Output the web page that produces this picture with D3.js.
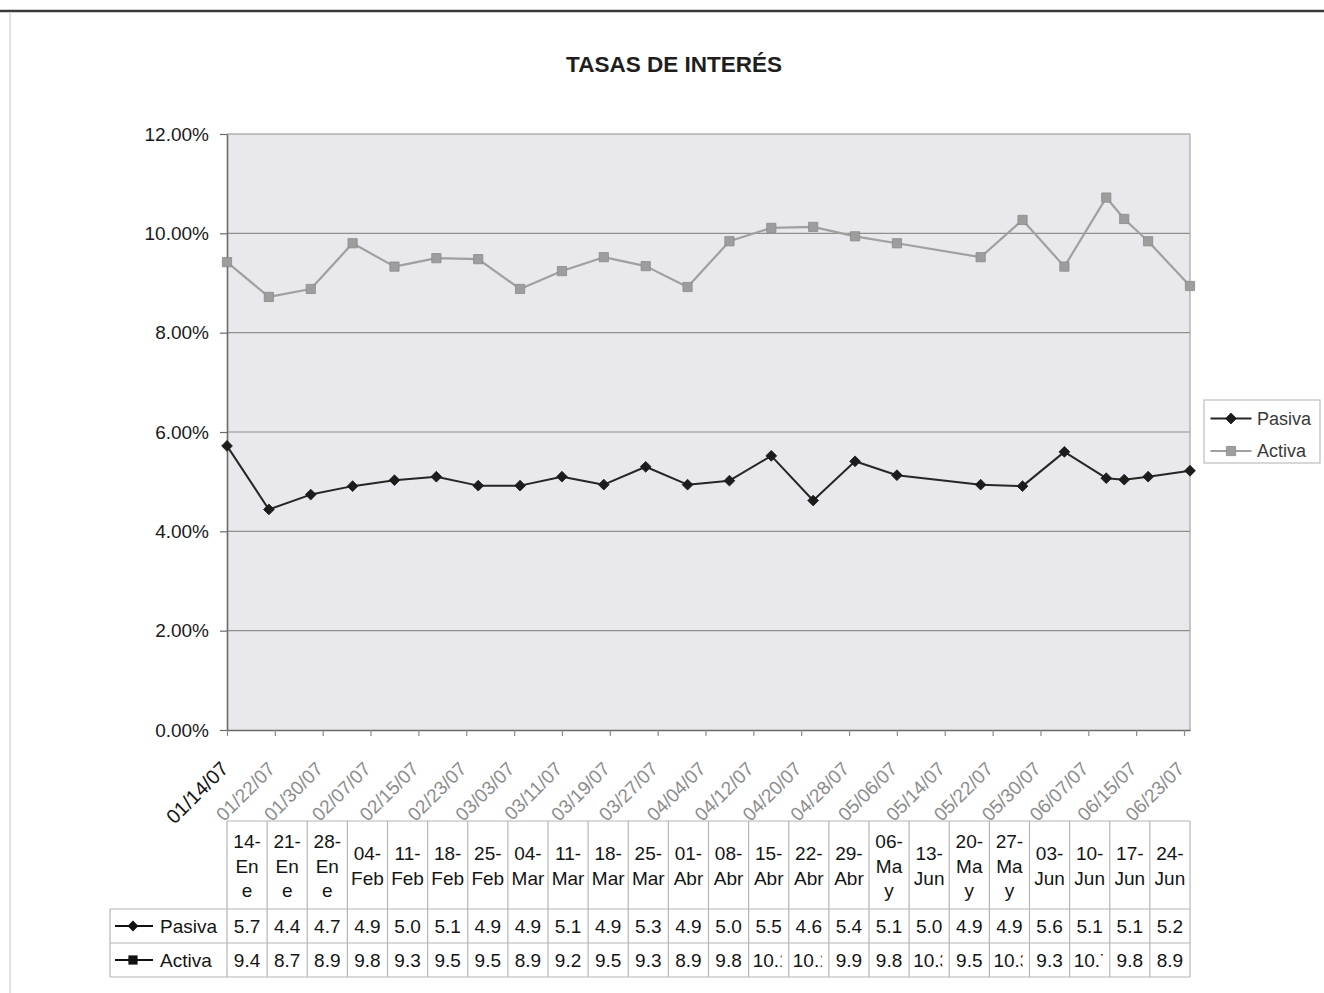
<!DOCTYPE html>
<html>
<head>
<meta charset="utf-8">
<title>Tasas de interés</title>
<script src="https://cdn.jsdelivr.net/npm/d3@7"></script>
<style>
  body { margin: 0; background: #ffffff; }
  svg { display: block; font-family: "Liberation Sans", Arial, Helvetica, sans-serif; }
</style>
</head>
<body>
<svg id="chart" width="1324" height="993"></svg>
<script>
// ---- Datos ----
const titulo = "TASAS DE INTERÉS";

// Etiquetas de la tabla de datos, en el orden de la hoja
const categorias = ["14-Ene","21-Ene","28-Ene","04-Feb","11-Feb","18-Feb","25-Feb","04-Mar","11-Mar","18-Mar","25-Mar",
  "01-Abr","08-Abr","15-Abr","22-Abr","29-Abr","06-May","13-Jun","20-May","27-May","03-Jun","10-Jun","17-Jun","24-Jun"];

// Fecha real de cada columna (eje de fechas)
const fechas = ["2007-01-14","2007-01-21","2007-01-28","2007-02-04","2007-02-11","2007-02-18","2007-02-25","2007-03-04",
  "2007-03-11","2007-03-18","2007-03-25","2007-04-01","2007-04-08","2007-04-15","2007-04-22","2007-04-29","2007-05-06",
  "2007-06-13","2007-05-20","2007-05-27","2007-06-03","2007-06-10","2007-06-17","2007-06-24"];

// Tasas en %
const pasiva = [5.72, 4.44, 4.74, 4.91, 5.03, 5.10, 4.92, 4.92, 5.10, 4.94, 5.30, 4.94,
  5.02, 5.52, 4.62, 5.41, 5.13, 5.04, 4.94, 4.91, 5.60, 5.07, 5.10, 5.22];
const activa = [9.42, 8.72, 8.88, 9.80, 9.33, 9.50, 9.48, 8.88, 9.24, 9.52, 9.34, 8.92,
  9.84, 10.11, 10.13, 9.94, 9.80, 10.29, 9.52, 10.27, 9.33, 10.72, 9.84, 8.94];

const rangoFechas = ["2007-01-14", "2007-06-24"];
const rangoTasas = [0, 12];
const pasoEtiquetasDias = 8;

// ---- Dibujo ----
const parse = d3.utcParse("%Y-%m-%d");
const svg = d3.select("#chart");

const plot = { left: 227, right: 1190, top: 134, bottom: 730 };
const tabla = { left: 110, top: 821, header: 909, row1: 943, bottom: 977 };

const x = d3.scaleUtc().domain(rangoFechas.map(parse)).range([plot.left, plot.right]);
const y = d3.scaleLinear().domain(rangoTasas).range([plot.bottom, plot.top]);

const series = [
  { nombre: "Pasiva", valores: pasiva, linea: "#262626", ancho: 2, simbolo: d3.symbolSquare, tam: 58, giro: 45,
    relleno: "#1c1c1c", borde: "#1c1c1c", rellenoTabla: "#111" },
  { nombre: "Activa", valores: activa, linea: "#a0a0a0", ancho: 2.2, simbolo: d3.symbolSquare, tam: 85, giro: 0,
    relleno: "#9d9d9d", borde: "#8a8a8a", rellenoTabla: "#111" }
];

// marco de la página
svg.append("line").attr("x1", 0).attr("x2", 1324).attr("y1", 11).attr("y2", 11)
  .attr("stroke", "#3a3a3a").attr("stroke-width", 2.5);
svg.append("line").attr("x1", 10).attr("x2", 10).attr("y1", 12).attr("y2", 993)
  .attr("stroke", "#cfcfcf").attr("stroke-width", 1.2);

// título
svg.append("text").attr("x", 674).attr("y", 72).attr("text-anchor", "middle")
  .attr("font-size", 22.5).attr("font-weight", "bold").attr("fill", "#1e1e1e").text(titulo);

// área de trazado
svg.append("rect").attr("x", plot.left).attr("y", plot.top)
  .attr("width", plot.right - plot.left).attr("height", plot.bottom - plot.top)
  .attr("fill", "#e8e8ed");

// líneas de división
const ticksY = y.ticks(6);
svg.append("g").selectAll("line").data(ticksY.filter(d => d > 0)).join("line")
  .attr("x1", plot.left).attr("x2", plot.right)
  .attr("y1", d => y(d)).attr("y2", d => y(d))
  .attr("stroke", "#8f8f8f").attr("stroke-width", 1.2);
svg.append("line").attr("x1", plot.right).attr("x2", plot.right)
  .attr("y1", plot.top).attr("y2", plot.bottom).attr("stroke", "#a5a5a5").attr("stroke-width", 1.2);

// eje Y
const gy = svg.append("g").attr("transform", `translate(${plot.left},0)`)
  .call(d3.axisLeft(y).tickValues(ticksY).tickSize(7).tickSizeOuter(0).tickPadding(11)
    .tickFormat(d => d.toFixed(2) + "%"));
gy.select(".domain").attr("stroke", "#6a6a6a").attr("stroke-width", 1.6);
gy.selectAll(".tick line").attr("stroke", "#6a6a6a").attr("stroke-width", 1.2);
gy.selectAll(".tick text").attr("font-size", 19).attr("fill", "#1a1a1a")
  .attr("font-family", "'Liberation Sans', Arial, sans-serif");

// eje X (fechas cada 8 días)
const inicio = parse(rangoFechas[0]), fin = parse(rangoFechas[1]);
const ticksX = d3.utcDay.range(inicio, fin, pasoEtiquetasDias);
const gx = svg.append("g").attr("transform", `translate(0,${plot.bottom})`)
  .call(d3.axisBottom(x).tickValues(ticksX).tickSize(6).tickSizeOuter(0)
    .tickFormat(d3.utcFormat("%m/%d/%y")));
gx.select(".domain").attr("stroke", "#6a6a6a").attr("stroke-width", 1.6);
gx.selectAll(".tick line").attr("stroke", "#8a8a8a").attr("stroke-width", 1.2);
gx.selectAll(".tick text")
  .attr("x", 0).attr("y", 0).attr("dy", 0)
  .attr("text-anchor", "end")
  .attr("font-family", "'Liberation Sans', Arial, sans-serif")
  .attr("transform", (d, i) => i === 0 ? "translate(2,40) rotate(-45)" : "translate(1,40) rotate(-45)")
  .attr("font-size", (d, i) => i === 0 ? 20 : 19)
  .attr("fill", (d, i) => i === 0 ? "#151515" : "#8c8c8c");

// series
series.forEach(s => {
  const puntos = s.valores.map((v, i) => ({ fecha: parse(fechas[i]), v }))
    .sort((a, b) => a.fecha - b.fecha);
  svg.append("path").datum(puntos)
    .attr("fill", "none").attr("stroke", s.linea).attr("stroke-width", s.ancho)
    .attr("stroke-linejoin", "round")
    .attr("d", d3.line().x(d => x(d.fecha)).y(d => y(d.v)));
  svg.append("g").selectAll("path").data(puntos).join("path")
    .attr("d", d3.symbol(s.simbolo, s.tam))
    .attr("transform", d => `translate(${x(d.fecha)},${y(d.v)}) rotate(${s.giro})`)
    .attr("fill", s.relleno).attr("stroke", s.borde).attr("stroke-width", 0.8);
});

// leyenda
const ley = svg.append("g").attr("transform", "translate(1204,400)");
ley.append("rect").attr("width", 116).attr("height", 63)
  .attr("fill", "#fff").attr("stroke", "#bdbdbd").attr("stroke-width", 1.2);
series.forEach((s, i) => {
  const cy = 18.5 + i * 32.5;
  ley.append("line").attr("x1", 6.5).attr("x2", 47.5).attr("y1", cy).attr("y2", cy)
    .attr("stroke", s.linea).attr("stroke-width", s.ancho);
  ley.append("path").attr("d", d3.symbol(s.simbolo, s.tam))
    .attr("transform", `translate(27,${cy}) rotate(${s.giro})`)
    .attr("fill", s.relleno).attr("stroke", s.borde).attr("stroke-width", 0.8);
  ley.append("text").attr("x", 53).attr("y", cy).attr("dy", "0.35em")
    .attr("font-size", 18).attr("fill", "#3a3a3a").text(s.nombre);
});

// tabla de datos
const n = categorias.length;
const cw = (plot.right - plot.left) / n;
const tb = svg.append("g");
const colorLinea = "#b6b6b6";
const fuenteTabla = 19;
const margen = 4;

[[tabla.top, plot.left], [tabla.header, tabla.left], [tabla.row1, tabla.left], [tabla.bottom, tabla.left]]
  .forEach(([yy, x0]) => tb.append("line").attr("x1", x0).attr("x2", plot.right)
    .attr("y1", yy).attr("y2", yy).attr("stroke", colorLinea).attr("stroke-width", 1.2));
tb.append("line").attr("x1", tabla.left).attr("x2", tabla.left)
  .attr("y1", tabla.header).attr("y2", tabla.bottom).attr("stroke", colorLinea).attr("stroke-width", 1.2);
d3.range(n + 1).forEach(i => tb.append("line")
  .attr("x1", plot.left + i * cw).attr("x2", plot.left + i * cw)
  .attr("y1", tabla.top).attr("y2", tabla.bottom)
  .attr("stroke", colorLinea).attr("stroke-width", 1.2));

// medición de texto para el ajuste de líneas
const medidor = svg.append("text").attr("font-size", fuenteTabla).attr("visibility", "hidden");
const medir = t => { medidor.text(t); return medidor.node().getComputedTextLength(); };
const anchoUtil = cw - 2 * margen + 1.2;
function partir(etiqueta) {
  const lineas = []; let actual = "";
  for (const ch of etiqueta) {
    const prueba = actual + ch;
    if (actual && medir(prueba) > anchoUtil) { lineas.push(actual); actual = ch; }
    else actual = prueba;
  }
  if (actual) lineas.push(actual);
  return lineas;
}

// encabezados
const altoLinea = 24.5;
const centroEnc = 866;
categorias.forEach((c, i) => {
  const lineas = partir(c);
  const cx = plot.left + (i + 0.5) * cw;
  const t = tb.append("text").attr("text-anchor", "middle").attr("font-size", fuenteTabla).attr("fill", "#141414");
  lineas.forEach((l, k) => t.append("tspan").attr("x", cx)
    .attr("y", centroEnc + (k - (lineas.length - 1) / 2) * altoLinea).attr("dy", "0.35em").text(l));
});

// filas de valores; el texto que no cabe se recorta en el borde interior de la celda
const defs = svg.append("defs");
const fmt = d3.format(".1f");
series.forEach((s, r) => {
  const y0 = r === 0 ? tabla.header : tabla.row1;
  const y1 = r === 0 ? tabla.row1 : tabla.bottom;
  const cy = (y0 + y1) / 2;
  // clave de la serie
  tb.append("line").attr("x1", 115).attr("x2", 153).attr("y1", cy).attr("y2", cy)
    .attr("stroke", "#111").attr("stroke-width", 2);
  tb.append("path").attr("d", d3.symbol(s.simbolo, s.tam))
    .attr("transform", `translate(133,${cy}) rotate(${s.giro})`).attr("fill", s.rellenoTabla);
  tb.append("text").attr("x", 160).attr("y", cy).attr("dy", "0.35em")
    .attr("font-size", fuenteTabla).attr("fill", "#141414").text(s.nombre);

  s.valores.forEach((v, i) => {
    const xl = plot.left + i * cw;
    const txt = fmt(v);
    const w = medir(txt);
    const cabe = w <= cw - 2 * margen;
    const id = `celda-${r}-${i}`;
    defs.append("clipPath").attr("id", id).append("rect")
      .attr("x", xl + margen).attr("y", y0)
      .attr("width", cw - 2 * margen - (cabe ? 0 : 3)).attr("height", y1 - y0);
    tb.append("text")
      .attr("x", cabe ? xl + cw / 2 : xl + margen)
      .attr("text-anchor", cabe ? "middle" : "start")
      .attr("y", cy).attr("dy", "0.35em")
      .attr("font-size", fuenteTabla).attr("fill", "#141414")
      .attr("clip-path", `url(#${id})`)
      .text(txt);
  });
});
medidor.remove();
</script>
</body>
</html>
